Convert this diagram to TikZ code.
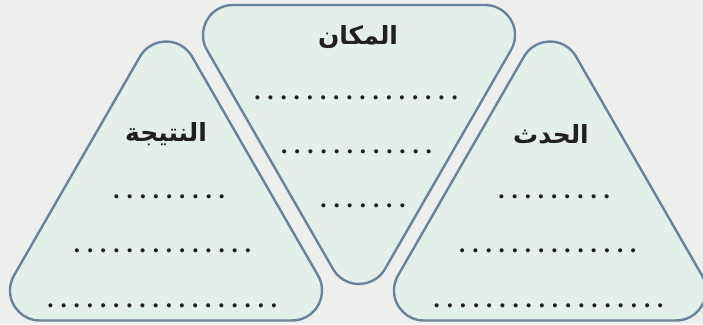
\documentclass[tikz,border=0pt]{standalone}
\usepackage{fontspec}
\setmainfont{Liberation Serif}
\newfontfamily\arabicfont[Script=Arabic]{DejaVu Sans}
\TeXXeTstate=1
\definecolor{paper}{HTML}{EEEFEC}
\definecolor{panelfill}{HTML}{E4EFEA}
\definecolor{rim}{HTML}{6B8399}
\definecolor{ink}{HTML}{231F20}
% a row of evenly spaced dots to write on
\newcommand\dotrow[1]{\foreach \k in {1,...,#1}{\makebox[13.15pt]{.}}}
\tikzset{
  panel/.style={fill=panelfill, draw=rim, line width=2.4pt, line join=round},
  heading/.style={font=\arabicfont\bfseries\fontsize{25}{30}\selectfont, text=ink, anchor=base, inner sep=0pt},
  dotline/.style={font=\bfseries\fontsize{25}{30}\selectfont, text=ink, anchor=base, inner sep=0pt},
  % equilateral triangle (side 356) with corners rounded to radius 30,
  % drawn round its centroid, apex up (y grows downwards)
  pics/roundtri/.style={code={
    \draw[panel] (25.98,-161) -- (152.02,58)
      arc[start angle=-30, end angle=90, radius=30]
      -- (-126.04,103)
      arc[start angle=90, end angle=210, radius=30]
      -- (-25.98,-161)
      arc[start angle=210, end angle=330, radius=30]
      -- cycle;
  }},
}
\begin{document}
\begin{tikzpicture}[x=1pt,y=-1pt]
\fill[paper] (0,0) rectangle (703,324);
\useasboundingbox (0,0) rectangle (703,324);

% three rounded triangles
\pic at (166,217.5) {roundtri};
\pic[rotate=180] at (359,108) {roundtri};
\pic at (550,217.5) {roundtri};

% headings
\node[heading] (result) at (166,141) {\beginR النتيجة\endR};
\node[heading] (place)  at (358,44)  {\beginR المكان\endR};
\node[heading] (event)  at (551,143) {\beginR الحدث\endR};

% writing lines
\node[dotline] (r1) at (169.2,198.7) {\dotrow{9}};
\node[dotline] (r2) at (162.5,252.7) {\dotrow{14}};
\node[dotline] (r3) at (162.3,307) {\dotrow{18}};

\node[dotline] (p1) at (356,99)   {\dotrow{16}};
\node[dotline] (p2) at (356.5,153.7) {\dotrow{12}};
\node[dotline] (p3) at (363,207.7)  {\dotrow{7}};

\node[dotline] (e1) at (554.2,198.7) {\dotrow{9}};
\node[dotline] (e2) at (547.8,252.7) {\dotrow{14}};
\node[dotline] (e3) at (548.5,307) {\dotrow{18}};
\end{tikzpicture}
\end{document}
